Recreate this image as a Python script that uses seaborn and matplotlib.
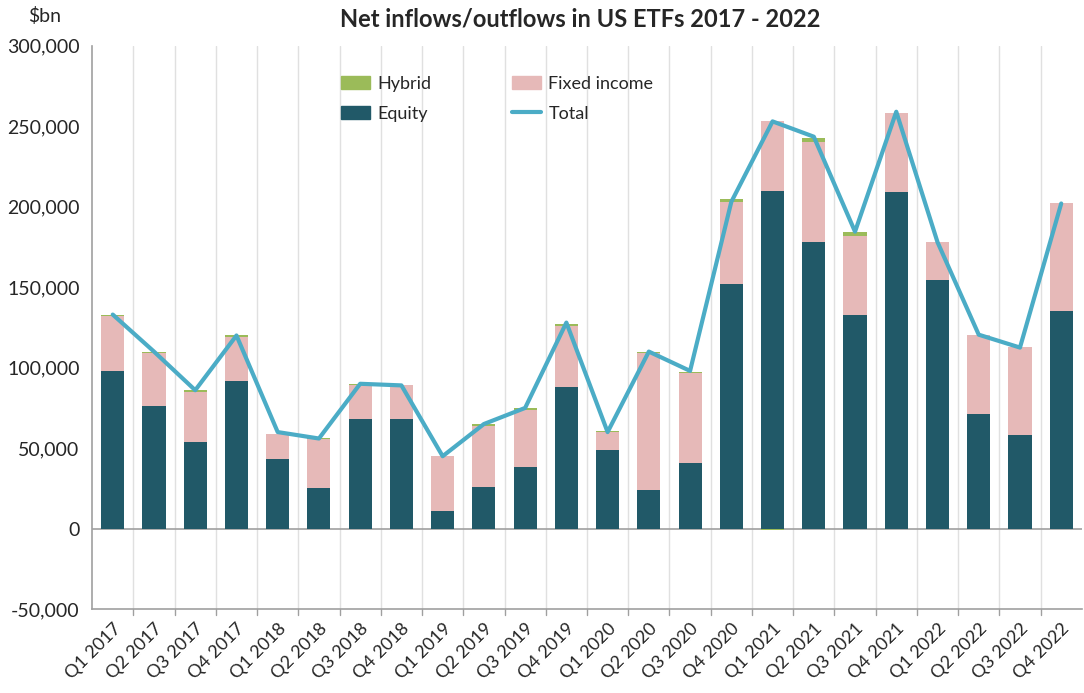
import numpy as np
import pandas as pd
import matplotlib
matplotlib.use("Agg")
import matplotlib.pyplot as plt
import seaborn as sns
from matplotlib.patches import Patch
from matplotlib.lines import Line2D

quarters = [f"Q{q} {y}" for y in range(2017, 2023) for q in range(1, 5)]

equity = [98000, 76000, 54000, 92000, 43000, 25000, 68000, 68000,
          11000, 26000, 38000, 88000, 49000, 24000, 41000, 152000,
          210000, 178000, 133000, 209000, 154500, 71500, 58000, 135500]
fixed_income = [34000, 33000, 31000, 27000, 15500, 31000, 21500, 21000,
                34000, 38000, 36000, 38000, 11000, 85000, 56000, 51000,
                43000, 62500, 49000, 49000, 23500, 49000, 55000, 67000]
hybrid = [1000, 1000, 1000, 1000, 500, 500, 500, 500,
          0, 1000, 1000, 1000, 500, 1000, 500, 1500,
          -1000, 2000, 2500, 0, 0, 0, 0, 0]
total = [133000, 110000, 86000, 120000, 60000, 56000, 90000, 89000,
         45000, 65000, 75000, 128000, 60000, 110000, 98000, 203000,
         253000, 243500, 184500, 259000, 178000, 120500, 112500, 202000]

df = pd.DataFrame({"quarter": quarters, "equity": equity,
                   "fixed": fixed_income, "hybrid": hybrid, "total": total})
df["hy_bottom"] = np.where(df["hybrid"] >= 0, df["equity"] + df["fixed"], 0)

c_eq = "#215968"
c_fi = "#E6B9B8"
c_hy = "#9BBB59"
c_tot = "#4BACC6"

sns.set_style("white")
plt.rcParams["font.family"] = ["Lato", "DejaVu Sans"]

fig = plt.figure(figsize=(10.84, 6.93), dpi=100)
ax = fig.add_axes([0.085, 0.121, 0.913, 0.813])

bw = 0.56
sns.barplot(data=df, x="quarter", y="equity", color=c_eq, width=bw,
            saturation=1, linewidth=0, ax=ax, zorder=3)
sns.barplot(data=df, x="quarter", y="fixed", bottom=df["equity"], color=c_fi,
            width=bw, saturation=1, linewidth=0, ax=ax, zorder=3)
sns.barplot(data=df, x="quarter", y="hybrid", bottom=df["hy_bottom"], color=c_hy,
            width=bw, saturation=1, linewidth=0, ax=ax, zorder=3)
sns.lineplot(x=np.arange(len(quarters)), y=df["total"], color=c_tot, lw=3,
             ax=ax, zorder=4)

ax.set_xlim(-0.5, len(quarters) - 0.5)
ax.set_ylim(-50000, 300000)
ax.set_yticks(np.arange(-50000, 300001, 50000))
ax.set_yticklabels([f"{v:,}" for v in range(-50000, 300001, 50000)], fontsize=14)
ax.set_xticks(np.arange(len(quarters)))
ax.set_xticklabels(quarters, rotation=45, ha="right", rotation_mode="anchor",
                   fontsize=13)
ax.tick_params(axis="x", length=0, pad=8)
ax.tick_params(axis="y", length=5, width=1, color="#a0a0a0", direction="out", pad=4)
ax.set_xlabel("")
ax.set_ylabel("")

# vertical gridlines between categories
for b in np.arange(0.5, len(quarters) - 0.5, 1):
    ax.axvline(b, color="#e0e0e0", lw=1, zorder=1)
    ax.plot([b, b], [-50000, -53500], color="#a0a0a0", lw=1, clip_on=False)
ax.axhline(0, color="#a0a0a0", lw=1.2, zorder=2)

for s in ["top", "right"]:
    ax.spines[s].set_visible(False)
ax.spines["left"].set_color("#a0a0a0")
ax.spines["bottom"].set_color("#a0a0a0")
ax.spines["left"].set_linewidth(1.2)
ax.spines["bottom"].set_linewidth(1.2)

handles = [Patch(color=c_hy, label="Hybrid"), Patch(color=c_eq, label="Equity"),
           Patch(color=c_fi, label="Fixed income"),
           Line2D([0], [0], color=c_tot, lw=3, label="Total")]
ax.legend(handles=handles, ncol=2, frameon=False, fontsize=13,
          loc="upper left", bbox_to_anchor=(0.235, 0.975), columnspacing=4.5,
          handlelength=1.6, handletextpad=0.4, labelspacing=0.75)

fig.text(0.535, 0.973, "Net inflows/outflows in US ETFs 2017 - 2022",
         ha="center", va="center", fontsize=17, fontweight="bold")
fig.text(0.026, 0.977, "$bn", ha="left", va="center", fontsize=14)

fig.savefig("out.png", dpi=100)
